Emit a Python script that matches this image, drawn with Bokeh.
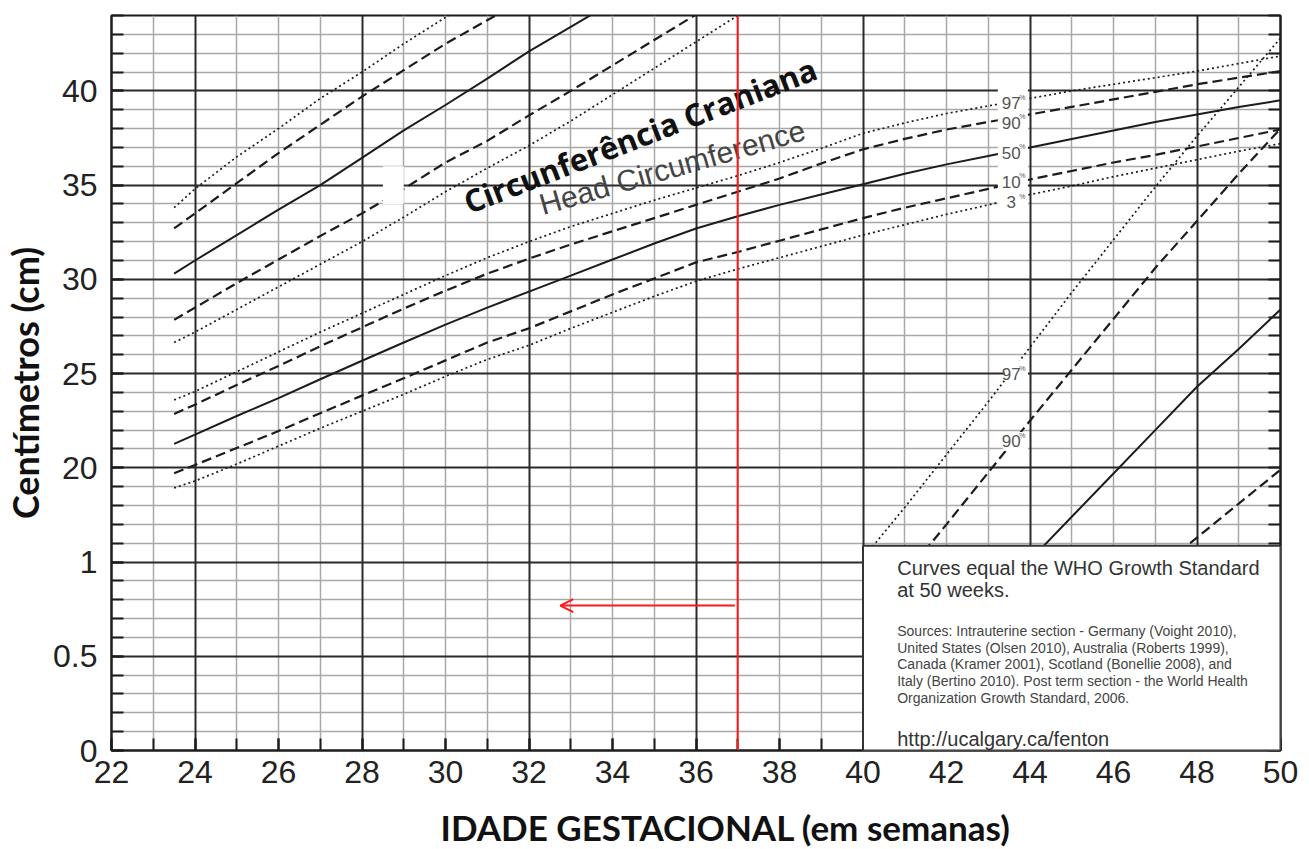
from bokeh.plotting import figure
from bokeh.models import (Range1d, FixedTicker, Grid, LinearAxis, Label, Span,
                          Arrow, OpenHead, BoxAnnotation, Title)
from bokeh.core.properties import value
from bokeh.embed import file_html
from bokeh.resources import INLINE

# ---------------- data (chart units: cm on the upper scale) ----------------
# upper-left set (length curves, leave the chart at the top)
len_weeks = [23.5, 24, 25, 26, 27, 28, 29, 30, 31, 32, 33, 34, 35, 36, 37, 38]
len_p97 = [33.8, 34.8, 36.5, 38.0, 39.6, 41.0, 42.5, 43.9, 45.3]
len_p90 = [32.7, 33.5, 35.1, 36.7, 38.2, 39.7, 41.1, 42.5, 43.75, 45.0]
len_p50 = [30.3, 31.0, 32.35, 33.7, 35.0, 36.45, 37.9, 39.25, 40.65, 42.1, 43.4, 44.7]
len_p10 = [27.85, 28.5, 29.8, 31.05, 32.3, 33.5, 34.8, 36.2, 37.35, 38.7, 40.0,
           41.35, 42.7, 44.05, 45.4]
len_p3 = [26.65, 27.2, 28.4, 29.6, 30.8, 32.0, 33.3, 34.65, 35.9, 37.1, 38.4,
          39.8, 41.2, 42.6, 44.0, 45.4]

# head circumference set
hc_weeks = [23.5] + list(range(24, 51))
hc_p97 = [23.6, 24.05, 25.1, 26.15, 27.2, 28.2, 29.2, 30.2, 31.15, 32.0, 32.8, 33.5,
          34.2, 34.85, 35.5, 36.2, 36.95, 37.75, 38.3, 38.8, 39.2, 39.6, 40.0, 40.35,
          40.7, 41.05, 41.45, 41.85]
hc_p90 = [22.86, 23.35, 24.4, 25.4, 26.45, 27.45, 28.45, 29.4, 30.3, 31.1, 31.85, 32.55,
          33.25, 33.95, 34.65, 35.35, 36.15, 36.9, 37.45, 37.95, 38.35, 38.75, 39.15,
          39.55, 39.95, 40.35, 40.7, 41.05]
hc_p50 = [21.27, 21.76, 22.75, 23.7, 24.7, 25.68, 26.65, 27.6, 28.5, 29.35, 30.2, 31.05,
          31.9, 32.7, 33.35, 33.95, 34.5, 35.05, 35.6, 36.1, 36.55, 37.0, 37.45, 37.9,
          38.35, 38.75, 39.15, 39.5]
hc_p10 = [19.71, 20.15, 21.05, 21.95, 22.9, 23.83, 24.75, 25.7, 26.65, 27.4, 28.3, 29.2,
          30.05, 30.9, 31.45, 32.05, 32.65, 33.25, 33.8, 34.3, 34.8, 35.3, 35.75, 36.2,
          36.6, 37.05, 37.5, 37.95]
hc_p3 = [18.93, 19.3, 20.2, 21.15, 22.1, 23.0, 23.9, 24.85, 25.75, 26.5, 27.4, 28.25,
         29.1, 29.9, 30.55, 31.15, 31.75, 32.35, 32.9, 33.45, 33.95, 34.5, 34.95, 35.45,
         35.9, 36.35, 36.8, 37.2]

# post-term steep set (drawn on the same chart units)
pt_weeks = list(range(40, 51))
pt_p97 = [15.2, 17.9, 20.7, 23.5, 26.4, 29.3, 32.1, 34.9, 37.6, 40.2, 42.8]
pt_p90 = [14.3, 17.0, 19.75, 22.5, 25.2, 27.9, 30.6, 33.1, 35.6, 38.0]
pt_p50 = [15.1, 17.4, 19.7, 22.0, 24.3, 26.3, 28.4]
pt_p10 = [14.5, 16.3, 18.1, 19.9]

# axis ticks
x_ticks = list(range(22, 51, 2))
x_minor = list(range(22, 51))
y_ticks = [5, 10, 15, 20, 25, 30, 35, 40]
y_tick_labels = ["0", "0.5", "1", "20", "25", "30", "35", "40"]
y_minor = list(range(5, 45))
x_thick = [24, 28, 32, 36, 40, 44, 48]
x_thin = [w for w in range(23, 50) if w not in x_thick]
y_thick = [10, 15, 20, 25, 30, 35, 40]
y_thin = [v for v in range(6, 44) if v not in y_thick]

# percentile labels
pct_text = ["97", "90", "50", "10", "3"]
pct_week = 43.55
pct_level = [39.36, 38.32, 36.73, 35.19, 34.12]
pt_pct_text = ["97", "90"]
pt_pct_level = [24.98, 21.4]

# reference marker
marker_week = 37
arrow_from_week = 36.93
arrow_to_week = 32.75
arrow_level = 12.69

# legend box (weeks / chart units)
box_left, box_right, box_bottom, box_top = 40, 50, 5, 15.87
box_text_week = 40.82
box_lines = ["Curves equal the WHO Growth Standard", "at 50 weeks."]
box_lines_level = [14.69, 13.49]
source_lines = ["Sources: Intrauterine section - Germany (Voight 2010),",
                "United States (Olsen 2010), Australia (Roberts 1999),",
                "Canada (Kramer 2001), Scotland (Bonellie 2008), and",
                "Italy (Bertino 2010). Post term section - the World Health",
                "Organization Growth Standard, 2006."]
source_levels = [11.34, 10.45, 9.57, 8.69, 7.77]
url_text = "http://ucalgary.ca/fenton"
url_level = 5.62

# white erasures on the original sheet
erase_left = [43.23, 43.4, 43.35, 28.5]
erase_right = [43.95, 43.95, 43.95, 29.0]
erase_bottom = [33.6, 24.3, 20.9, 34.0]
erase_top = [40.25, 25.7, 21.9, 36.0]

# ---------------- figure ----------------
INK = "#1c1c1c"
p = figure(width=1300, height=848, x_range=Range1d(22, 50), y_range=Range1d(5, 44),
           output_backend="svg", toolbar_location=None,
           min_border_left=108, min_border_right=20, min_border_top=15,
           min_border_bottom=98)
p.background_fill_color = "white"
p.border_fill_color = "white"
p.outline_line_color = INK
p.outline_line_width = 2
p.xgrid.visible = False
p.ygrid.visible = False

for dim, ticks, color, w in [(0, x_thin, "#a8a8a8", 1.5), (1, y_thin, "#a8a8a8", 1.5),
                             (0, x_thick, "#2a2a2a", 2), (1, y_thick, "#2a2a2a", 2)]:
    p.add_layout(Grid(dimension=dim, ticker=FixedTicker(ticks=ticks),
                      grid_line_color=color, grid_line_width=w))

tick_font = value("Liberation Sans")
xa = p.xaxis[0]
xa.ticker = FixedTicker(ticks=x_ticks, minor_ticks=x_minor)
xa.major_tick_in = 12
xa.major_tick_out = 0
xa.minor_tick_in = 12
xa.minor_tick_out = 0
xa.major_tick_line_color = INK
xa.minor_tick_line_color = INK
xa.major_tick_line_width = 2
xa.minor_tick_line_width = 2
xa.axis_line_color = INK
xa.axis_line_width = 2
xa.major_label_text_font = "Liberation Sans"
xa.major_label_text_font_size = "32px"
xa.major_label_text_color = "#222222"
xa.major_label_standoff = 10

ya = p.yaxis[0]
ya.ticker = FixedTicker(ticks=y_ticks, minor_ticks=y_minor)
ya.major_label_overrides = {t: s for t, s in zip(y_ticks, y_tick_labels)}
ya.major_tick_in = 12
ya.major_tick_out = 0
ya.minor_tick_in = 12
ya.minor_tick_out = 0
ya.major_tick_line_color = INK
ya.minor_tick_line_color = INK
ya.major_tick_line_width = 2
ya.minor_tick_line_width = 2
ya.axis_line_color = INK
ya.axis_line_width = 2
ya.major_label_text_font = "Liberation Sans"
ya.major_label_text_font_size = "32px"
ya.major_label_text_color = "#222222"
ya.major_label_standoff = 14
ya.axis_label = "Centímetros (cm)"
ya.axis_label_text_font = "Lato"
ya.axis_label_text_font_style = "bold"
ya.axis_label_text_font_size = "36px"
ya.axis_label_text_color = "#111111"
ya.axis_label_standoff = 3

ra = LinearAxis(ticker=FixedTicker(ticks=[], minor_ticks=y_minor),
                minor_tick_in=12, minor_tick_out=0, minor_tick_line_color=INK,
                minor_tick_line_width=2, axis_line_color=INK, axis_line_width=2,
                major_tick_in=0, major_tick_out=0)
p.add_layout(ra, "right")

# x axis title, placed under the tick labels
xtitle = Title(text="IDADE GESTACIONAL (em semanas)", align="left", offset=329,
               text_font="Lato", text_font_style="bold", text_font_size="35px",
               text_color="#111111", standoff=0)
try:
    xtitle.padding = dict(left=0, right=0, top=18, bottom=0)
except Exception:
    xtitle.standoff = 10
p.add_layout(xtitle, "below")

# ---------------- curves ----------------
DOT = dict(line_dash="2 3", line_width=1.7, line_color=INK)
DASH = dict(line_dash="10 5", line_width=2.2, line_color=INK)
SOLID = dict(line_width=2.0, line_color=INK)

p.line(len_weeks[:len(len_p97)], len_p97, **DOT)
p.line(len_weeks[:len(len_p90)], len_p90, **DASH)
p.line(len_weeks[:len(len_p50)], len_p50, **SOLID)
p.line(len_weeks[:len(len_p10)], len_p10, **DASH)
p.line(len_weeks[:len(len_p3)], len_p3, **DOT)

p.line(hc_weeks, hc_p97, **DOT)
p.line(hc_weeks, hc_p90, **DASH)
p.line(hc_weeks, hc_p50, **SOLID)
p.line(hc_weeks, hc_p10, **DASH)
p.line(hc_weeks, hc_p3, **DOT)

p.line(pt_weeks[-len(pt_p97):], pt_p97, **DOT)
p.line(pt_weeks[-len(pt_p90):], pt_p90, **DASH)
p.line(pt_weeks[-len(pt_p50):], pt_p50, **SOLID)
p.line(pt_weeks[-len(pt_p10):], pt_p10, **DASH)

# erased spots behind labels
p.quad(left=erase_left, right=erase_right, bottom=erase_bottom, top=erase_top,
       fill_color="white", line_color=None)

# percentile labels
for texts, levels in [(pct_text, pct_level), (pt_pct_text, pt_pct_level)]:
    p.text(x=[pct_week] * len(texts), y=levels, text=texts,
           text_font=tick_font, text_font_size="17px", text_color="#555555",
           text_align="center", text_baseline="middle")
    p.text(x=[pct_week] * len(texts), y=[v + 0.3 for v in levels], text=["%"] * len(texts),
           x_offset=8, text_font=tick_font, text_font_size="7px", text_color="#555555",
           text_align="left", text_baseline="middle")

# titles in the plot
p.add_layout(Label(x=34.66, y=37.65, text="Circunferência Craniana", angle=0.37,
                   text_font="Open Sans", text_font_style="bold", text_font_size="31px",
                   text_color="#111111", text_align="center", text_baseline="middle"))
p.add_layout(Label(x=35.43, y=35.95, text="Head Circumference", angle=0.28,
                   text_font="Liberation Sans", text_font_size="30px",
                   text_color="#444444", text_align="center", text_baseline="middle"))

# legend/source box
p.add_layout(BoxAnnotation(left=box_left, right=box_right, bottom=box_bottom, top=box_top,
                           fill_color="white", fill_alpha=1.0, line_color="#333333",
                           line_width=2, line_alpha=1.0))
for txt, lv in zip(box_lines, box_lines_level):
    p.add_layout(Label(x=box_text_week, y=lv, text=txt, text_font="Liberation Sans",
                       text_font_size="20px", text_color="#333333",
                       text_baseline="alphabetic"))
for txt, lv in zip(source_lines, source_levels):
    p.add_layout(Label(x=box_text_week, y=lv, text=txt, text_font="Liberation Sans",
                       text_font_size="14px", text_color="#444444",
                       text_baseline="alphabetic"))
p.add_layout(Label(x=box_text_week, y=url_level, text=url_text, text_font="Liberation Sans",
                   text_font_size="20px", text_color="#333333", text_baseline="alphabetic"))

# red marker line and arrow
p.add_layout(Span(location=marker_week, dimension="height", line_color="#ff1a1a",
                  line_width=2))
p.add_layout(Arrow(end=OpenHead(size=13, line_color="#ff1a1a", line_width=2),
                   x_start=arrow_from_week, y_start=arrow_level,
                   x_end=arrow_to_week, y_end=arrow_level,
                   line_color="#ff1a1a", line_width=2))

open("out.html", "w").write(file_html(p, INLINE))
